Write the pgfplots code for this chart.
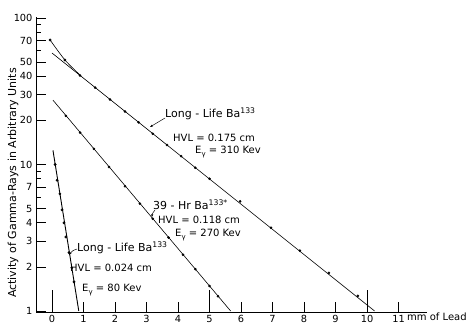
\documentclass[border=0pt]{standalone}
\usepackage{fontspec}
\setmainfont{DejaVu Sans}
\usepackage{pgfplots}
\pgfplotsset{compat=1.18}
\usetikzlibrary{arrows.meta}
\newcommand{\Eg}{E\raisebox{-0.45ex}{\scriptsize γ}}
\begin{document}
\begin{tikzpicture}
\path[use as bounding box] (0,0) rectangle (470pt,329pt);
\begin{axis}[
  at={(36pt,17pt)}, anchor=south west,
  scale only axis, width=391pt, height=295pt,
  ymode=log, xmin=-0.508, xmax=11.905, ymin=0.984, ymax=101.6,
  axis x line=bottom, axis y line=left,
  axis line style={-, line width=0.8pt},
  clip=false,
  xtick={0,1,2,3,4,5,6,7,8,9,10,11},
  xticklabels={0,1,2,3,4,5,6,7,8,9,10,11},
  ytick={1,2,3,4,5,7,10,20,30,40,50,70,100},
  yticklabels={1,2,3,4,5,7,10,20,30,40,50,70,100},
  minor ytick={6,8,9,60,80,90},
  tick align=inside,
  major tick length=10pt, minor tick length=5pt,
  tick style={line width=0.6pt, black},
  extra x ticks={0,5,10}, extra x tick labels={},
  extra x tick style={major tick length=22pt},
  tick label style={font=\fontsize{9.8}{11}\selectfont},
  /pgf/number format/assume math mode=true,
]
% Series 1: Long-Life Ba133, HVL 0.175 cm
\addplot[black, line width=0.6pt, smooth, mark=*, mark size=1.1pt, mark indices={1,2}]
  coordinates {(-0.06,70.8) (0.41,51.7) (0.89,40.8)};
\addplot[black, line width=0.6pt] coordinates {(0,57.7) (10.24,1.0)};
\addplot[black, only marks, mark=*, mark size=1.1pt] coordinates {
  (0.89,40.5) (1.37,33.5) (1.84,27.8) (2.32,23.0) (2.75,19.4) (3.2,16.2)
  (3.65,13.6) (4.1,11.4) (4.55,9.5) (5.0,8.0) (5.97,5.6) (6.95,3.7)
  (7.87,2.58) (8.79,1.82) (9.71,1.27)};
% Series 2: 39-Hr Ba133*, HVL 0.118 cm
\addplot[black, line width=0.6pt] coordinates {(0.03,27.5) (5.67,1.0)};
\addplot[black, only marks, mark=*, mark size=1.1pt] coordinates {
  (0.44,21.5) (0.89,16.5) (1.33,12.8) (1.81,9.6) (2.32,7.1) (2.79,5.4)
  (3.2,4.26) (3.7,3.17) (4.16,2.42) (4.55,1.93) (5.0,1.48) (5.27,1.26)};
% Series 3: Long-Life Ba133, HVL 0.024 cm
\addplot[black, line width=0.9pt] coordinates {(0.03,12.5) (0.85,1.0)};
\addplot[black, only marks, mark=*, mark size=1.2pt] coordinates {
  (0.1,10.0) (0.16,7.8) (0.25,6.3) (0.32,4.9) (0.38,4.0) (0.44,3.2)
  (0.54,2.5) (0.63,1.97) (0.7,1.58)};
\end{axis}
% y label
\node[rotate=90, font=\fontsize{11}{13}\selectfont] at (13pt,146pt) {Activity of Gamma-Rays in Arbitrary Units};
% x unit label
\node[anchor=west, font=\fontsize{10}{12}\selectfont, inner sep=0pt] at (407pt,12pt) {mm of Lead};
% annotations series 1
\node[anchor=west, font=\fontsize{11}{13}\selectfont, inner sep=0pt] at (165pt,215pt) {Long - Life Ba\textsuperscript{133}};
\draw[line width=0.5pt, -{Stealth[length=3pt,width=2.2pt]}] (165pt,211pt) -- (150pt,202pt);
\node[anchor=west, font=\fontsize{10}{12}\selectfont, inner sep=0pt] at (173pt,191pt) {HVL = 0.175 cm};
\node[anchor=west, font=\fontsize{10}{12}\selectfont, inner sep=0pt] at (195pt,177pt) {\Eg\ = 310 Kev};
% annotations series 2
\node[anchor=west, font=\fontsize{11}{13}\selectfont, inner sep=0pt] at (153pt,124pt) {39 - Hr Ba\textsuperscript{133*}};
\draw[line width=0.5pt, -{Stealth[length=3pt,width=2.2pt]}] (155pt,119pt) to[bend right=20] (152pt,112pt);
\node[anchor=west, font=\fontsize{10}{12}\selectfont, inner sep=0pt] at (158pt,109pt) {HVL = 0.118 cm};
\node[anchor=west, font=\fontsize{10}{12}\selectfont, inner sep=0pt] at (175pt,94pt) {\Eg\ = 270 Kev};
% annotations series 3
\node[anchor=west, font=\fontsize{11}{13}\selectfont, inner sep=0pt] at (77pt,81pt) {Long - Life Ba\textsuperscript{133}};
\draw[line width=0.5pt, -{Stealth[length=3pt,width=2.2pt]}] (77pt,80pt) to[bend right=20] (69pt,74pt);
\node[anchor=west, font=\fontsize{10}{12}\selectfont, inner sep=0pt] at (70pt,61pt) {HVL = 0.024 cm};
\node[anchor=west, font=\fontsize{10}{12}\selectfont, inner sep=0pt] at (82pt,39pt) {\Eg\ = 80 Kev};
\end{tikzpicture}
\end{document}
